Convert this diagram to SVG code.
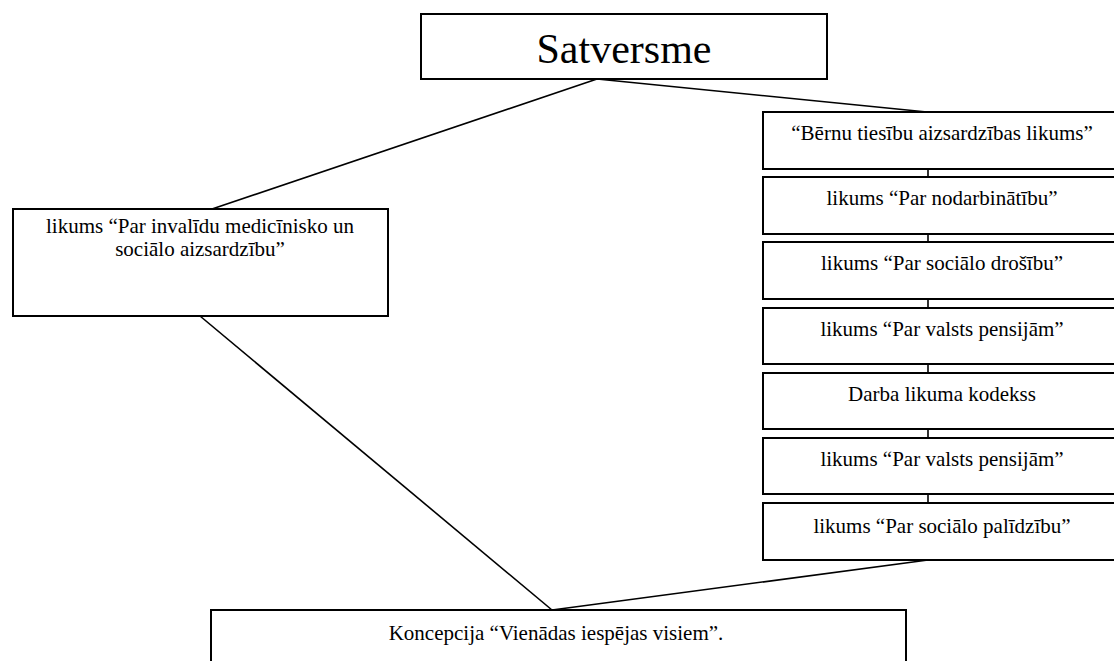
<svg xmlns="http://www.w3.org/2000/svg" width="1114" height="661" viewBox="0 0 1114 661">
<style>
.box{fill:#fff;stroke:#000;stroke-width:2}
.con{stroke:#000;stroke-width:1.6;fill:none}
.t{font-family:"Liberation Serif","Times New Roman",serif;font-size:21px;fill:#000;text-anchor:middle}
.big{font-size:42px}
</style>
<rect width="1114" height="661" fill="#fff"/>
<g id="connectors">
<line class="con" x1="597" y1="79" x2="212" y2="209"/>
<line class="con" x1="597" y1="79" x2="927" y2="112"/>
<line class="con" x1="200" y1="316" x2="552" y2="610"/>
<line class="con" x1="928" y1="560" x2="552" y2="610"/>
<line class="con" x1="928" y1="169" x2="928" y2="177"/>
<line class="con" x1="928" y1="234" x2="928" y2="242"/>
<line class="con" x1="928" y1="299" x2="928" y2="308"/>
<line class="con" x1="928" y1="364" x2="928" y2="373"/>
<line class="con" x1="928" y1="429" x2="928" y2="438"/>
<line class="con" x1="928" y1="494" x2="928" y2="503"/>
</g>
<g id="satversme">
<rect class="box" x="421" y="14" width="406" height="65"/>
<text class="t big" x="624" y="63">Satversme</text>
</g>
<g id="invalidu">
<rect class="box" x="13" y="209" width="375" height="107"/>
<text class="t" x="200" y="233">likums “Par invalīdu medicīnisko un</text>
<text class="t" x="200" y="256">sociālo aizsardzību”</text>
</g>
<g id="bernu">
<rect class="box" x="763" y="112" width="360" height="57"/>
<text class="t" x="942" y="140">“Bērnu tiesību aizsardzības likums”</text>
</g>
<g id="nodarbinatibu">
<rect class="box" x="763" y="177" width="360" height="57"/>
<text class="t" x="942" y="205">likums “Par nodarbinātību”</text>
</g>
<g id="drosibu">
<rect class="box" x="763" y="242" width="360" height="57"/>
<text class="t" x="942" y="270">likums “Par sociālo drošību”</text>
</g>
<g id="pensijam1">
<rect class="box" x="763" y="308" width="360" height="56"/>
<text class="t" x="942" y="336">likums “Par valsts pensijām”</text>
</g>
<g id="kodekss">
<rect class="box" x="763" y="373" width="360" height="56"/>
<text class="t" x="942" y="401">Darba likuma kodekss</text>
</g>
<g id="pensijam2">
<rect class="box" x="763" y="438" width="360" height="56"/>
<text class="t" x="942" y="466">likums “Par valsts pensijām”</text>
</g>
<g id="palidzibu">
<rect class="box" x="763" y="503" width="360" height="57"/>
<text class="t" x="942" y="533">likums “Par sociālo palīdzību”</text>
</g>
<g id="koncepcija">
<rect class="box" x="211" y="610" width="695" height="70"/>
<text class="t" x="556" y="640">Koncepcija “Vienādas iespējas visiem”.</text>
</g>
</svg>
